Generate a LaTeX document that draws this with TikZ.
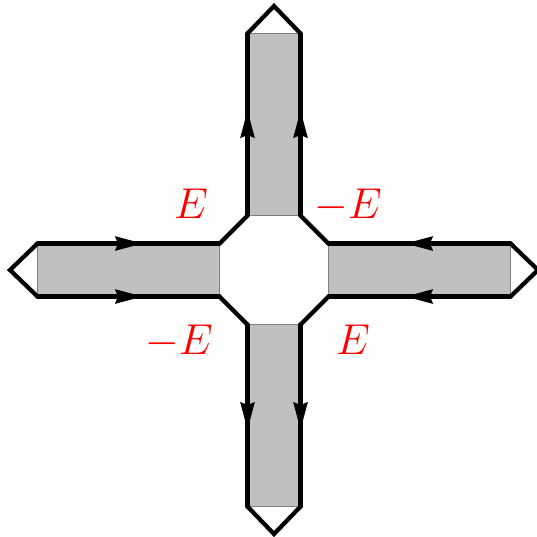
\documentclass[tikz,border=0pt]{standalone}
\usepackage{amsmath}
\usepackage{xcolor}
\usepackage{tikz}
\usetikzlibrary{arrows.meta, decorations.markings}

\definecolor{armgray}{RGB}{192,192,192}

\begin{document}
\begin{tikzpicture}[
    x=0.4pt, y=0.4pt,
    every node/.style={font=\fontsize{17.6}{20}\selectfont, text=red, inner sep=0pt, anchor=base},
    arm/.style={fill=armgray, draw=gray, line width=0.6pt},
    wall/.style={draw, line width=1.7pt, line cap=round, line join=miter},
    flow/.style={postaction={decorate}, decoration={markings,
        mark=at position 0.58 with {\arrow{Stealth[length=11pt, width=5.5pt, inset=1pt]}}}}
  ]
  \useasboundingbox (-274,-266) rectangle (263,270);

  % arms: gray channel, end cap
  \foreach \ang in {0,90,180,270} {
    \begin{scope}[rotate=\ang]
      \draw[arm] (54.5,-26.5) rectangle (236.5,26.5);
      \draw[wall] (236.5,26.5) -- (264,0) -- (236.5,-26.5);
      \draw[wall] (54.5,26.5) -- (26.5,54.5);
    \end{scope}
  }

  % incoming edges (left and right)
  \foreach \ang in {0,180} {
    \begin{scope}[rotate=\ang]
      \draw[wall, flow] (236.5,26.5) -- (54.5,26.5);
      \draw[wall, flow] (236.5,-26.5) -- (54.5,-26.5);
    \end{scope}
  }

  % outgoing edges (top and bottom)
  \foreach \ang in {90,270} {
    \begin{scope}[rotate=\ang]
      \draw[wall, flow] (54.5,26.5) -- (236.5,26.5);
      \draw[wall, flow] (54.5,-26.5) -- (236.5,-26.5);
    \end{scope}
  }

  \node (ul) at (-83,52) {$E$};
  \node (ur) at (74,52) {$-E$};
  \node (ll) at (-95,-84) {$-E$};
  \node (lr) at (79,-84) {$E$};
\end{tikzpicture}
\end{document}
